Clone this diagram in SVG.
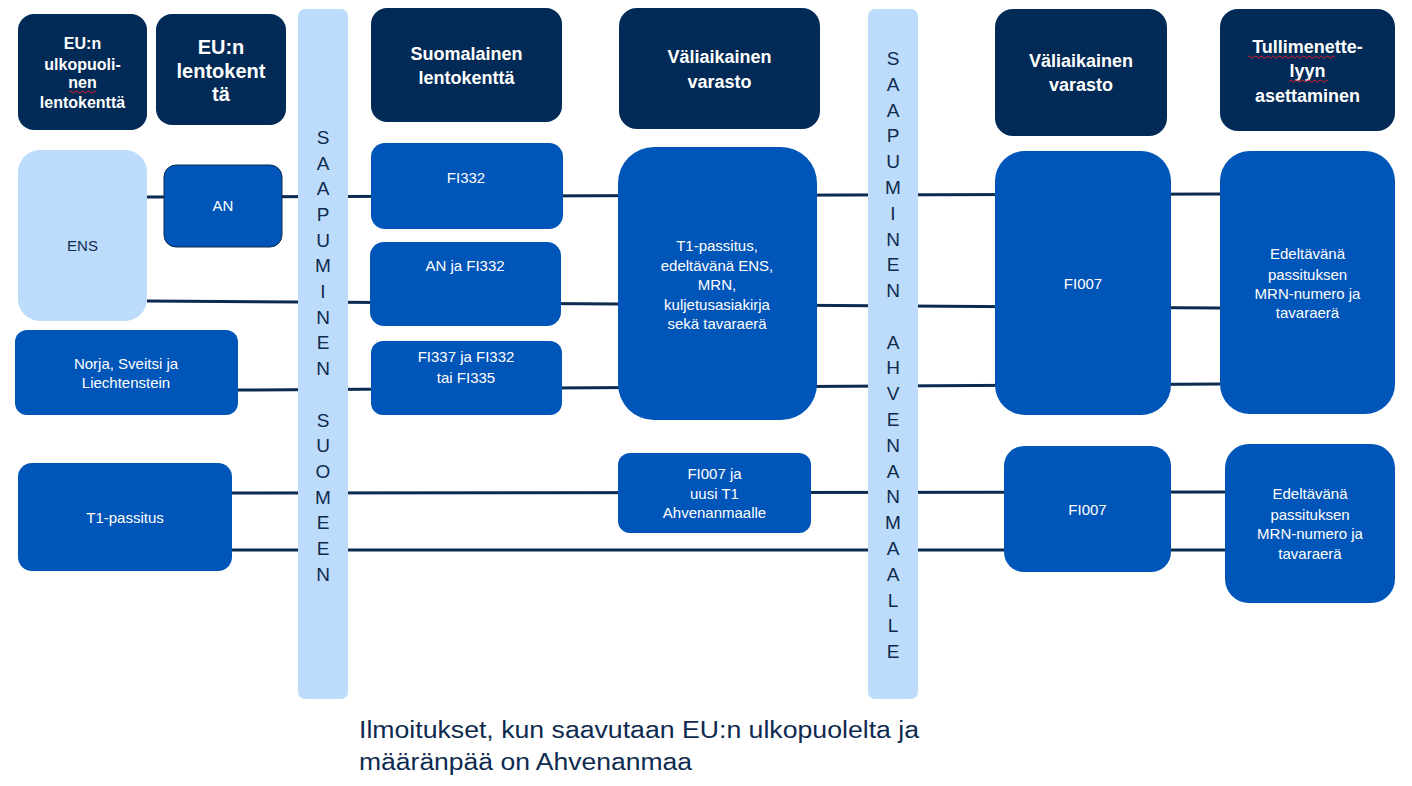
<svg xmlns="http://www.w3.org/2000/svg" width="1412" height="786" viewBox="0 0 1412 786">
<defs>
<style>
.hd{fill:#012a56}
.bl{fill:#0055b8}
.lt{fill:#bddcfb}
.ht{font-family:"Liberation Sans",Arial,sans-serif;font-weight:bold;fill:#fff;text-anchor:middle}
.bt{font-family:"Liberation Sans",Arial,sans-serif;font-size:15px;fill:#fff;text-anchor:middle}
.vt{font-family:"Liberation Sans",Arial,sans-serif;font-size:19px;fill:#0e2a4f;text-anchor:middle}
.ln{stroke:#0d2b50;stroke-width:3;fill:none}
.sq{stroke:#e0202a;stroke-width:1;fill:none}
</style>
</defs>
<rect width="1412" height="786" fill="#fff"/>
<g id="connectors">
<path class="ln" d="M147 197 L1220 194"/>
<path class="ln" d="M147 301 L1220 308"/>
<path class="ln" d="M238 390 L1220 384"/>
<path class="ln" d="M232 493 L1225 492"/>
<path class="ln" d="M232 550 L1225 550"/>
</g>
<g id="h-eu-ulko">
<rect class="hd" x="18" y="14" width="129" height="116" rx="16"/>
<text class="ht" font-size="16" x="82.5"><tspan x="82.5" y="49">EU:n</tspan><tspan x="82.5" y="70">ulkopuoli-</tspan><tspan x="82.5" y="88">nen</tspan><tspan x="82.5" y="108">lentokenttä</tspan></text>
<path class="sq" d="M69 92 q1.5 -2 3 0 t3 0 t3 0 t3 0 t3 0 t3 0 t3 0 t3 0 t3 0"/>
</g>
<g id="h-eu-lento">
<rect class="hd" x="156" y="14" width="130" height="111" rx="16"/>
<text class="ht" font-size="20"><tspan x="221" y="54">EU:n</tspan><tspan x="221" y="78">lentokent</tspan><tspan x="221" y="101">tä</tspan></text>
</g>
<g id="bar-suomeen">
<rect class="lt" x="298" y="9" width="50" height="690" rx="7"/>
<text class="vt"><tspan x="323" y="144">S</tspan><tspan x="323" y="170">A</tspan><tspan x="323" y="195">A</tspan><tspan x="323" y="221">P</tspan><tspan x="323" y="247">U</tspan><tspan x="323" y="272">M</tspan><tspan x="323" y="298">I</tspan><tspan x="323" y="324">N</tspan><tspan x="323" y="349">E</tspan><tspan x="323" y="375">N</tspan><tspan x="323" y="427">S</tspan><tspan x="323" y="452">U</tspan><tspan x="323" y="478">O</tspan><tspan x="323" y="504">M</tspan><tspan x="323" y="529">E</tspan><tspan x="323" y="555">E</tspan><tspan x="323" y="581">N</tspan></text>
</g>
<g id="h-suomalainen">
<rect class="hd" x="371" y="8" width="191" height="114" rx="16"/>
<text class="ht" font-size="18"><tspan x="466.5" y="60">Suomalainen</tspan><tspan x="466.5" y="84">lentokenttä</tspan></text>
</g>
<g id="h-valiaikainen1">
<rect class="hd" x="619" y="8" width="201" height="121" rx="18"/>
<text class="ht" font-size="18"><tspan x="719.5" y="63">Väliaikainen</tspan><tspan x="719.5" y="88">varasto</tspan></text>
</g>
<g id="bar-ahvenanmaalle">
<rect class="lt" x="868" y="9" width="50" height="690" rx="7"/>
<text class="vt"><tspan x="893" y="65">S</tspan><tspan x="893" y="91">A</tspan><tspan x="893" y="117">A</tspan><tspan x="893" y="142">P</tspan><tspan x="893" y="168">U</tspan><tspan x="893" y="194">M</tspan><tspan x="893" y="220">I</tspan><tspan x="893" y="246">N</tspan><tspan x="893" y="271">E</tspan><tspan x="893" y="297">N</tspan><tspan x="893" y="349">A</tspan><tspan x="893" y="374">H</tspan><tspan x="893" y="400">V</tspan><tspan x="893" y="426">E</tspan><tspan x="893" y="452">N</tspan><tspan x="893" y="478">A</tspan><tspan x="893" y="503">N</tspan><tspan x="893" y="529">M</tspan><tspan x="893" y="555">A</tspan><tspan x="893" y="581">A</tspan><tspan x="893" y="607">L</tspan><tspan x="893" y="632">L</tspan><tspan x="893" y="658">E</tspan></text>
</g>
<g id="h-valiaikainen2">
<rect class="hd" x="995" y="9" width="172" height="127" rx="18"/>
<text class="ht" font-size="18"><tspan x="1081" y="67">Väliaikainen</tspan><tspan x="1081" y="91">varasto</tspan></text>
</g>
<g id="h-tullimenettely">
<rect class="hd" x="1220" y="9" width="175" height="122" rx="18"/>
<text class="ht" font-size="18"><tspan x="1307.5" y="53">Tullimenette-</tspan><tspan x="1307.5" y="77">lyyn</tspan><tspan x="1307.5" y="102">asettaminen</tspan></text>
<path class="sq" d="M1248 57 q1.5 -2 3 0 t3 0 t3 0 t3 0 t3 0 t3 0 t3 0 t3 0 t3 0 t3 0 t3 0 t3 0 t3 0 t3 0 t3 0 t3 0 t3 0 t3 0 t3 0 t3 0 t3 0 t3 0 t3 0 t3 0 t3 0 t3 0 t3 0 t3 0 t3 0"/>
<path class="sq" d="M1289 81 q1.5 -2 3 0 t3 0 t3 0 t3 0 t3 0 t3 0 t3 0 t3 0 t3 0 t3 0 t3 0 t3 0 t3 0"/>
</g>
<g id="n-ens">
<rect class="lt" x="18" y="150" width="129" height="171" rx="22"/>
<text class="bt" x="82.5" y="251" style="fill:#0e2a4f">ENS</text>
</g>
<g id="n-an">
<rect class="bl" x="164" y="165" width="118" height="82" rx="12" stroke="#0d2b50" stroke-width="1"/>
<text class="bt" x="223" y="211">AN</text>
</g>
<g id="n-fi332">
<rect class="bl" x="371" y="143" width="192" height="86" rx="14"/>
<text class="bt" x="466" y="183">FI332</text>
</g>
<g id="n-an-fi332">
<rect class="bl" x="370" y="242" width="191" height="84" rx="14"/>
<text class="bt" x="465" y="271">AN ja FI332</text>
</g>
<g id="n-fi337">
<rect class="bl" x="371" y="341" width="191" height="74" rx="12"/>
<text class="bt"><tspan x="466" y="362">FI337 ja FI332</tspan><tspan x="466" y="383">tai FI335</tspan></text>
</g>
<g id="n-t1-big">
<rect class="bl" x="618" y="147" width="199" height="273" rx="36"/>
<text class="bt"><tspan x="717" y="251">T1-passitus,</tspan><tspan x="717" y="271">edeltävänä ENS,</tspan><tspan x="717" y="290">MRN,</tspan><tspan x="717" y="310">kuljetusasiakirja</tspan><tspan x="717" y="329">sekä tavaraerä</tspan></text>
</g>
<g id="n-norja">
<rect class="bl" x="15" y="330" width="223" height="85" rx="12"/>
<text class="bt"><tspan x="126" y="369">Norja, Sveitsi ja</tspan><tspan x="126" y="388">Liechtenstein</tspan></text>
</g>
<g id="n-t1">
<rect class="bl" x="18" y="463" width="214" height="108" rx="14"/>
<text class="bt" x="125" y="523">T1-passitus</text>
</g>
<g id="n-fi007ja">
<rect class="bl" x="618" y="453" width="193" height="80" rx="12"/>
<text class="bt"><tspan x="714.5" y="479">FI007 ja</tspan><tspan x="714.5" y="499">uusi T1</tspan><tspan x="714.5" y="518">Ahvenanmaalle</tspan></text>
</g>
<g id="n-fi007-big">
<rect class="bl" x="995" y="151" width="176" height="264" rx="30"/>
<text class="bt" x="1083" y="289">FI007</text>
</g>
<g id="n-edeltava1">
<rect class="bl" x="1220" y="151" width="175" height="263" rx="30"/>
<text class="bt"><tspan x="1307.5" y="259">Edeltävänä</tspan><tspan x="1307.5" y="280">passituksen</tspan><tspan x="1307.5" y="299">MRN-numero ja</tspan><tspan x="1307.5" y="318">tavaraerä</tspan></text>
</g>
<g id="n-fi007-low">
<rect class="bl" x="1004" y="446" width="167" height="126" rx="20"/>
<text class="bt" x="1087.5" y="515">FI007</text>
</g>
<g id="n-edeltava2">
<rect class="bl" x="1225" y="444" width="170" height="159" rx="24"/>
<text class="bt"><tspan x="1310" y="499">Edeltävänä</tspan><tspan x="1310" y="520">passituksen</tspan><tspan x="1310" y="539">MRN-numero ja</tspan><tspan x="1310" y="559">tavaraerä</tspan></text>
</g>
<g id="caption">
<text font-family="'Liberation Sans',Arial,sans-serif" font-size="23" fill="#0e2a4f"><tspan x="359" y="738" textLength="560" lengthAdjust="spacingAndGlyphs">Ilmoitukset, kun saavutaan EU:n ulkopuolelta ja</tspan><tspan x="359" y="770" textLength="333" lengthAdjust="spacingAndGlyphs">määränpää on Ahvenanmaa</tspan></text>
</g>
</svg>
